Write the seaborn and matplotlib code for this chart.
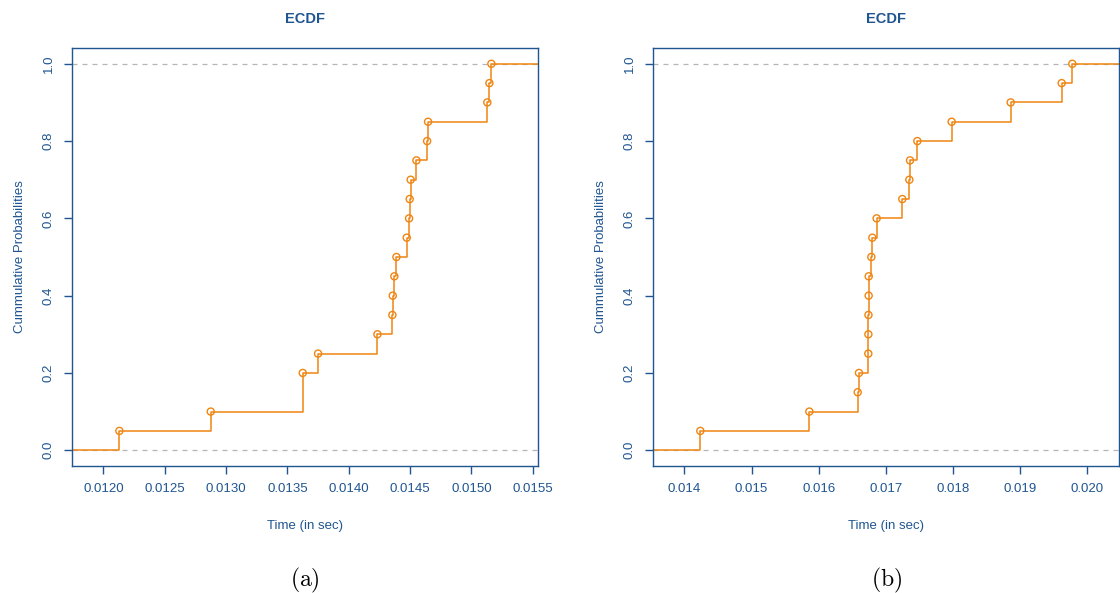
import numpy as np
import pandas as pd
import matplotlib
matplotlib.use("Agg")
import matplotlib.pyplot as plt
import seaborn as sns

# ---- data ----
times_a = [0.01213, 0.012875, 0.013625, 0.013625, 0.01375, 0.014234, 0.014356,
           0.014359, 0.014372, 0.014389, 0.014473, 0.014492, 0.014497, 0.014505,
           0.014552, 0.014639, 0.014647, 0.015130, 0.015147, 0.015163]
times_b = [0.014238, 0.015861, 0.016581, 0.016600, 0.016739, 0.016740, 0.016741,
           0.016744, 0.016745, 0.016784, 0.016799, 0.016863, 0.017245, 0.017350,
           0.017360, 0.017469, 0.017980, 0.018858, 0.019618, 0.019776]
xticks_a = [0.0120, 0.0125, 0.0130, 0.0135, 0.0140, 0.0145, 0.0150, 0.0155]
xtick_labels_a = ["0.0120", "0.0125", "0.0130", "0.0135", "0.0140", "0.0145", "0.0150", "0.0155"]
xticks_b = [0.014, 0.015, 0.016, 0.017, 0.018, 0.019, 0.020]
xtick_labels_b = ["0.014", "0.015", "0.016", "0.017", "0.018", "0.019", "0.020"]
yticks = [0.0, 0.2, 0.4, 0.6, 0.8, 1.0]
ytick_labels = ["0.0", "0.2", "0.4", "0.6", "0.8", "1.0"]
title = "ECDF"
xlabel = "Time (in sec)"
ylabel = "Cummulative Probabilities"
captions = ["(a)", "(b)"]

BLUE = "#1F5591"
ORANGE = "#EF8512"
GREY = "#B5B5B5"

sns.set_theme(style="white")
plt.rcParams["font.family"] = ["Liberation Sans", "DejaVu Sans"]
plt.rcParams["mathtext.fontset"] = "cm"

fig = plt.figure(figsize=(11.2, 5.93), dpi=100)
ax_a = fig.add_axes([0.0646, 0.2147, 0.4161, 0.7038])
ax_b = fig.add_axes([0.5833, 0.2147, 0.4161, 0.7038])


def ecdf_panel(ax, times, xticks, xtick_labels, caption):
    x_all = np.sort(np.asarray(times, dtype=float))
    n = len(x_all)
    # ECDF at unique knots (ties produce a single larger jump)
    x, counts = np.unique(x_all, return_counts=True)
    p = np.cumsum(counts) / n
    # R plot.stepfun / plot.ecdf x-range logic
    dr = max(0.08 * (x[-1] - x[0]), np.median(np.diff(x)))
    lo, hi = x[0] - dr, x[-1] + dr
    pad = 0.04 * (hi - lo)
    xl = (lo - pad, hi + pad)

    # reference lines
    for h in (0.0, 1.0):
        ax.axhline(h, color=GREY, lw=0.9, ls=(0, (4, 4)), zorder=1)

    step = pd.DataFrame({"x": np.r_[xl[0], x, xl[1]],
                         "p": np.r_[0.0, p, 1.0]})
    sns.lineplot(data=step, x="x", y="p", ax=ax, drawstyle="steps-post",
                 estimator=None, sort=False, color=ORANGE, lw=1.1, zorder=2)
    pts = pd.DataFrame({"x": x, "p": p})
    sns.scatterplot(data=pts, x="x", y="p", ax=ax, marker="o", s=26,
                    facecolor="none", edgecolor=ORANGE, linewidth=1.0, zorder=3)

    ax.set_xlim(*xl)
    ax.set_ylim(-0.04, 1.04)
    ax.set_xticks(xticks)
    ax.set_xticklabels(xtick_labels)
    ax.set_yticks(yticks)
    ax.set_yticklabels(ytick_labels, rotation=90, va="center")
    ax.tick_params(axis="both", direction="out", length=5.5, width=1.0,
                   color=BLUE, labelcolor=BLUE, labelsize=9.5, pad=7,
                   bottom=True, left=True)
    for s in ax.spines.values():
        s.set_color(BLUE)
        s.set_linewidth(1.0)
        s.set_visible(True)
    ax.set_title(title, color=BLUE, fontsize=10.5, fontweight="bold", pad=18)
    ax.set_xlabel(xlabel, color=BLUE, fontsize=9.5, labelpad=18)
    ax.set_ylabel(ylabel, color=BLUE, fontsize=9.5, labelpad=12)
    ax.grid(False)
    ax.text(0.5, -0.274, r"$\mathrm{" + caption + "}$", transform=ax.transAxes,
            ha="center", va="center", fontsize=17, color="black")


ecdf_panel(ax_a, times_a, xticks_a, xtick_labels_a, captions[0])
ecdf_panel(ax_b, times_b, xticks_b, xtick_labels_b, captions[1])

fig.savefig("out.png", dpi=100)
